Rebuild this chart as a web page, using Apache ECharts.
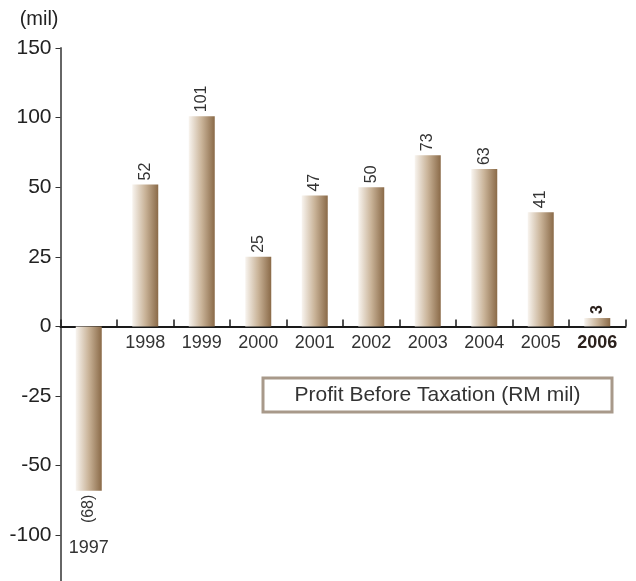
<!DOCTYPE html>
<html>
<head>
<meta charset="utf-8">
<script src="https://cdn.jsdelivr.net/npm/echarts@6/dist/echarts.min.js"></script>
<style>
	html, body { margin: 0; padding: 0; background: #fff; }
	#container { width: 636px; height: 581px; }
</style>
</head>
<body>
<div id="container"></div>
<script>
	var years = ['1997', '1998', '1999', '2000', '2001', '2002', '2003', '2004', '2005', '2006'];
	var profit = [-68, 52, 101, 25, 47, 50, 73, 63, 41, 3];
	// y轴刻度 (不等距: 每格一个刻度)
	var tickValues = [-100, -50, -25, 0, 25, 50, 100, 150];

	var font = 'Liberation Sans';
	var step = 69.6; // 每格像素
	var yMin = -4, yMax = 4;

	/*分段刻度: 0-50 每25一格, 50以上每50一格*/
	function toAxis(v) {
		if (v >= 0) {
			return v <= 50 ? v / 25 : 2 + (v - 50) / 50;
		}
		return v >= -50 ? v / 25 : -2 + (v + 50) / 50;
	}

	function fmtValue(v) {
		return v < 0 ? '(' + (-v) + ')' : String(v);
	}

	var yearData = years.map(function(y, i) {
		var item = { value: y };
		if (i == 0) {
			// 1997 标签放在负柱下方
			item.textStyle = { padding: [205, 0, 0, 0] };
		}
		if (i == years.length - 1) {
			item.textStyle = { fontWeight: 'bold', color: '#2b211c' };
		}
		return item;
	});

	var barData = profit.map(function(v, i) {
		var item = { value: toAxis(v) };
		if (v < 0) {
			item.label = { position: 'bottom', align: 'right' };
		}
		if (i == profit.length - 1) {
			item.label = { fontWeight: 'bold', color: '#2b211c' };
		}
		return item;
	});

	var echart = echarts.init(document.getElementById('container'));
	var option = {
		animation: false,
		grid: {
			left: 60.5,
			width: 565,
			top: 48,
			height: step * (yMax - yMin),
			outerBoundsMode: 'none'
		},
		xAxis: {
			type: 'category',
			data: yearData,
			position: 'bottom',
			// x轴移到0刻度处
			offset: yMin * step,
			axisLine: { onZero: false, lineStyle: { color: '#1a1a1a', width: 2 } },
			// 刻度朝上
			axisTick: { show: true, interval: 0, inside: false, length: -7, lineStyle: { color: '#1a1a1a', width: 1.5 } },
			axisLabel: { interval: 0, fontFamily: font, fontSize: 18, color: '#333', margin: 8 }
		},
		yAxis: {
			type: 'value',
			min: yMin,
			max: yMax,
			interval: 1,
			name: '(mil)',
			nameLocation: 'end',
			nameGap: 29,
			nameTextStyle: { fontFamily: font, fontSize: 20, color: '#222', align: 'right', verticalAlign: 'middle', padding: [0, 2, 0, 0] },
			splitLine: { show: false },
			axisLine: { show: true, lineStyle: { color: '#666', width: 2 } },
			axisTick: { show: true, length: 5, lineStyle: { color: '#333' } },
			axisLabel: {
				fontFamily: font,
				fontSize: 21,
				color: '#222',
				margin: 9,
				formatter: function(v) {
					var t = tickValues[v + 3];
					return t === undefined ? '' : String(t);
				}
			}
		},
		graphic: [{
			type: 'rect',
			shape: { x: 263, y: 378, width: 349, height: 34 },
			style: { fill: '#fff', stroke: '#a8998a', lineWidth: 3 }
		}, {
			type: 'text',
			x: 437.5,
			y: 395,
			style: {
				text: 'Profit Before Taxation (RM mil)',
				fontFamily: font,
				fontSize: 21,
				fill: '#333',
				align: 'center',
				verticalAlign: 'middle'
			}
		}],
		series: [{
			type: 'bar',
			data: barData,
			barWidth: 26,
			itemStyle: {
				color: {
					type: 'linear',
					x: 0, y: 0, x2: 1, y2: 0,
					colorStops: [
						{ offset: 0, color: '#f8f4ef' },
						{ offset: 0.5, color: '#c9b398' },
						{ offset: 1, color: '#8a6a48' }
					]
				}
			},
			label: {
				show: true,
				position: 'top',
				rotate: 90,
				align: 'left',
				verticalAlign: 'middle',
				distance: 4,
				fontFamily: font,
				fontSize: 16,
				color: '#333',
				formatter: function(p) {
					return fmtValue(profit[p.dataIndex]);
				}
			}
		}]
	};
	echart.setOption(option);
</script>
</body>
</html>
